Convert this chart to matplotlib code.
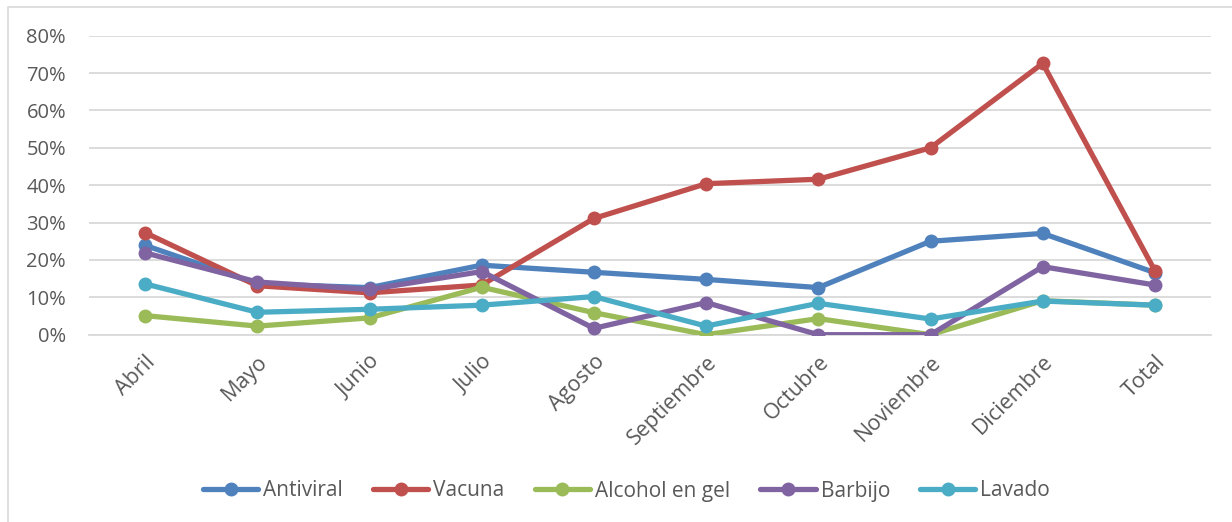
import matplotlib
matplotlib.use("Agg")
import matplotlib.pyplot as plt
from matplotlib.patches import Rectangle
from matplotlib.ticker import PercentFormatter

categories = ["Abril", "Mayo", "Junio", "Julio", "Agosto", "Septiembre",
              "Octubre", "Noviembre", "Diciembre", "Total"]
antiviral = [0.239, 0.136, 0.126, 0.186, 0.167, 0.148, 0.126, 0.250, 0.271, 0.166]
vacuna    = [0.273, 0.131, 0.112, 0.133, 0.311, 0.404, 0.416, 0.500, 0.726, 0.171]
alcohol   = [0.051, 0.023, 0.045, 0.127, 0.059, 0.000, 0.043, 0.000, 0.091, 0.079]
barbijo   = [0.219, 0.141, 0.121, 0.169, 0.017, 0.086, 0.000, 0.000, 0.182, 0.133]
lavado    = [0.136, 0.060, 0.068, 0.079, 0.102, 0.023, 0.084, 0.042, 0.090, 0.079]

series = [
    ("Antiviral", antiviral, "#4F81BD"),
    ("Vacuna", vacuna, "#C0504D"),
    ("Alcohol en gel", alcohol, "#9BBB59"),
    ("Barbijo", barbijo, "#8064A2"),
    ("Lavado", lavado, "#4BACC6"),
]

plt.rcParams['font.family'] = ['Open Sans', 'DejaVu Sans']
text_color = "#595959"

fig = plt.figure(figsize=(12.32, 5.22), dpi=100)
ax = fig.add_axes([89/1232, 1-334.7/522, (1211-89)/1232, (334.7-35.7)/522])

x = list(range(len(categories)))
for name, vals, col in series:
    ax.plot(x, vals, color=col, lw=3.8, marker='o', markersize=9,
            label=name, solid_capstyle='round', zorder=3)

ax.set_xlim(-0.5, len(categories) - 0.5)
ax.set_ylim(0, 0.8)
ax.set_yticks([i / 10 for i in range(9)])
ax.yaxis.set_major_formatter(PercentFormatter(1.0, decimals=0))
ax.grid(axis='y', color='#D9D9D9', lw=1.3, zorder=0)
for s in ['top', 'right', 'left']:
    ax.spines[s].set_visible(False)
ax.spines['bottom'].set_color('#D9D9D9')
ax.spines['bottom'].set_linewidth(1.3)
ax.tick_params(axis='y', length=0, labelsize=14.5, labelcolor=text_color, pad=16.5)
ax.set_xticks(x)
ax.set_xticklabels(categories, rotation=45, ha='right', va='top',
                   rotation_mode='anchor')
ax.tick_params(axis='x', length=0, labelsize=15.5, labelcolor=text_color, pad=12)

leg = fig.legend(loc='center', bbox_to_anchor=(626.5/1232, 1-491/522), ncol=5,
                 frameon=False, fontsize=15, handlelength=2.65,
                 columnspacing=1.45, handletextpad=0.24, labelcolor=text_color)

fig.patches.append(Rectangle((8/1232, -0.1), 1.2, 1 - 7/522 + 0.1,
                             transform=fig.transFigure, fill=False,
                             edgecolor='#D9D9D9', lw=1.2))

fig.savefig("out.png", dpi=100)
